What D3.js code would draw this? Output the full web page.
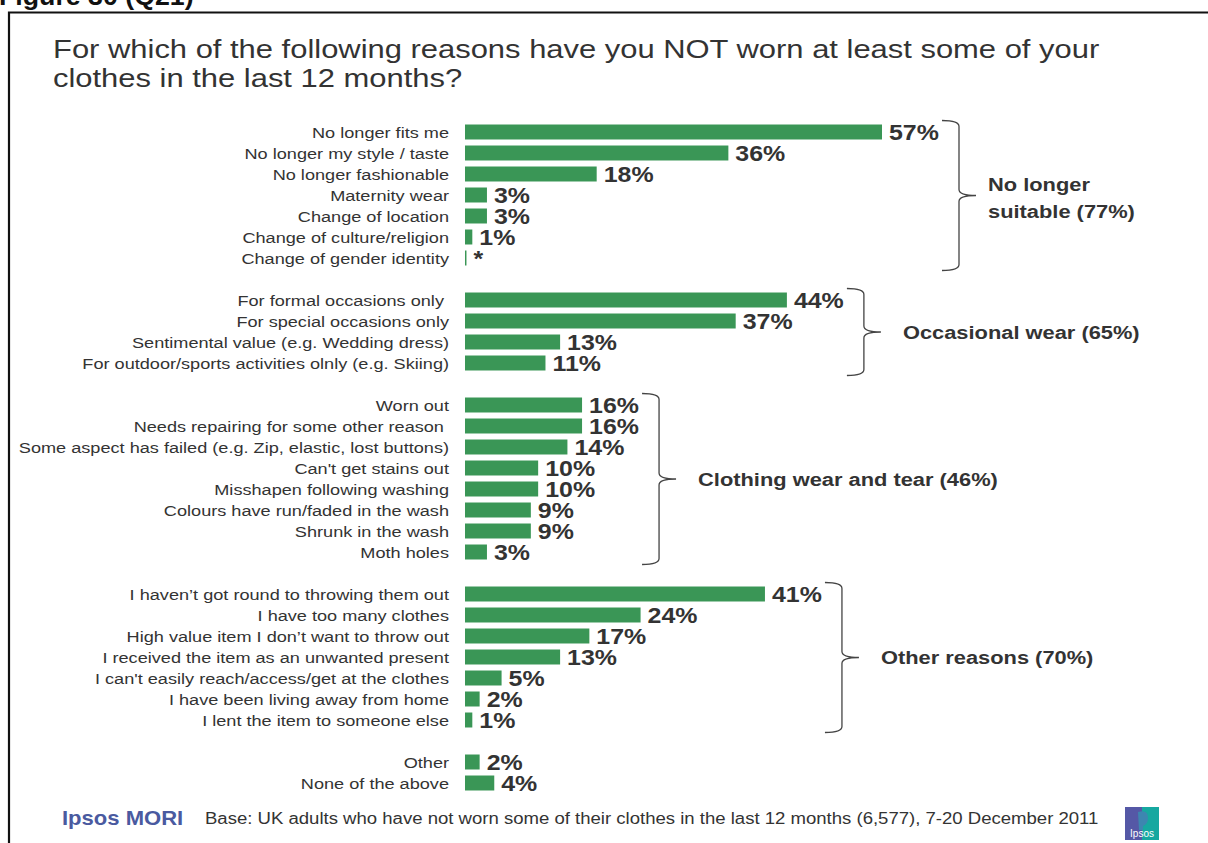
<!DOCTYPE html>
<html>
<head>
<meta charset="utf-8">
<script src="https://cdn.jsdelivr.net/npm/d3@7"></script>
<style>
  html, body { margin: 0; padding: 0; background: #fff; }
  svg { display: block; font-family: "Liberation Sans", Arial, sans-serif; }
</style>
</head>
<body>
<svg id="chart" width="1208" height="843"></svg>
<script>
// Reasons, grouped as in the questionnaire
const suitableLabels = ["No longer fits me", "No longer my style / taste", "No longer fashionable", "Maternity wear", "Change of location", "Change of culture/religion", "Change of gender identity"];
const suitableValues = [57, 36, 18, 3, 3, 1, 0.2];
const suitableText = ["57%", "36%", "18%", "3%", "3%", "1%", "*"];

const occasionalLabels = ["For formal occasions only ", "For special occasions only", "Sentimental value (e.g. Wedding dress)", "For outdoor/sports activities olnly (e.g. Skiing)"];
const occasionalValues = [44, 37, 13, 11];

const wearLabels = ["Worn out", "Needs repairing for some other reason ", "Some aspect has failed (e.g. Zip, elastic, lost buttons)", "Can't get stains out", "Misshapen following washing", "Colours have run/faded in the wash", "Shrunk in the wash", "Moth holes"];
const wearValues = [16, 16, 14, 10, 10, 9, 9, 3];

const otherLabels = ["I haven\u2019t got round to throwing them out", "I have too many clothes", "High value item I don\u2019t want to throw out", "I received the item as an unwanted present", "I can't easily reach/access/get at the clothes", "I have been living away from home", "I lent the item to someone else"];
const otherValues = [41, 24, 17, 13, 5, 2, 1];

const restLabels = ["Other", "None of the above"];
const restValues = [2, 4];

const groupNames = ["No longer\nsuitable (77%)", "Occasional wear (65%)", "Clothing wear and tear (46%)", "Other reasons (70%)", null];

const titleLines = ["For which of the following reasons have you NOT worn at least some of your", "clothes in the last 12 months?"];
const figureLabel = "Figure 30 (Q21)";
const baseNote = "Base: UK adults who have not worn some of their clothes in the last 12 months (6,577), 7-20 December 2011";

// Build row list (with a blank row between groups)
const groups = [
  { labels: suitableLabels, values: suitableValues, text: suitableText },
  { labels: occasionalLabels, values: occasionalValues },
  { labels: wearLabels, values: wearValues },
  { labels: otherLabels, values: otherValues },
  { labels: restLabels, values: restValues }
];
const rows = [];
const groupRanges = [];
let idx = 0;
groups.forEach((g, gi) => {
  const start = idx;
  g.labels.forEach((lab, i) => {
    rows.push({ key: idx, label: lab, value: g.values[i],
      text: g.text ? g.text[i] : g.values[i] + "%", group: gi });
    idx++;
  });
  groupRanges.push({ start, end: idx - 1, name: groupNames[gi],
    max: d3.max(g.values) });
  idx++; // spacer row
});
const nRows = idx - 1;

const svg = d3.select("#chart");
const green = "#3a9656";
const textCol = "#333333";

// Text in this layout is set slightly wide; draw it with a horizontal stretch
function wideText(parent, x, y, sx) {
  return parent.append("text")
    .attr("transform", `translate(${x},${y}) scale(${sx},1)`);
}

// Frame and figure caption
svg.append("path")
  .attr("d", "M9,843 V12.5 H1210")
  .attr("fill", "none").attr("stroke", "#111").attr("stroke-width", 2.2);
wideText(svg, -1, 5, 1.07)
  .attr("font-size", 25).attr("font-weight", "bold").attr("fill", "#111")
  .text(figureLabel);

// Title
titleLines.forEach((t, i) => {
  wideText(svg, 53, 58 + i * 29, 1.19)
    .attr("font-size", 26).attr("fill", textCol).text(t);
});

// Scales
const x = d3.scaleLinear().domain([0, 57]).range([465, 882]);
const y = d3.scaleBand().domain(d3.range(nRows)).range([121.5, 121.5 + nRows * 21])
  .paddingInner(0.286).paddingOuter(0.143);
const yc = i => y(i) + y.bandwidth() / 2;

const g = svg.append("g");

// Bars
g.selectAll("rect.bar").data(rows).join("rect")
  .attr("class", "bar")
  .attr("x", x(0))
  .attr("y", d => y(d.key))
  .attr("width", d => Math.max(1, x(d.value) - x(0)))
  .attr("height", y.bandwidth())
  .attr("fill", green);

// Category labels
g.selectAll("text.cat").data(rows).join("text")
  .attr("class", "cat")
  .attr("transform", d => `translate(449,${yc(d.key)}) scale(1.17,1)`)
  .attr("dy", "0.36em")
  .attr("text-anchor", "end")
  .attr("font-size", 15.5)
  .attr("fill", textCol)
  .style("white-space", "pre")
  .text(d => d.label);

// Value labels
g.selectAll("text.val").data(rows).join("text")
  .attr("class", "val")
  .attr("transform", d => `translate(${Math.max(x(d.value), x(0) + 1) + 7},${yc(d.key)}) scale(1.16,1)`)
  .attr("dy", "0.38em")
  .attr("font-size", 21.5)
  .attr("font-weight", "bold")
  .attr("fill", textCol)
  .text(d => d.text);

// Group braces with labels
const braces = groupRanges.filter(r => r.name);
braces.forEach(r => {
  const top = y(r.start) - 4;
  const bot = y(r.end) + y.bandwidth() + 5;
  const mid = (top + bot) / 2;
  const xv = x(r.max) + 77;
  const x0 = xv - 17;
  const xt = xv + 17;
  const rr = 6;
  const path = `M${x0},${top} Q${xv},${top} ${xv},${top + rr} L${xv},${mid - rr} Q${xv},${mid} ${xt},${mid} Q${xv},${mid} ${xv},${mid + rr} L${xv},${bot - rr} Q${xv},${bot} ${x0},${bot}`;
  g.append("path").attr("d", path)
    .attr("fill", "none").attr("stroke", "#444").attr("stroke-width", 1.3);
  const lines = r.name.split("\n");
  const lx = xt + (lines.length > 1 ? 12 : 22);
  const y0 = lines.length > 1 ? mid - 11 : mid;
  lines.forEach((ln, i) => {
    wideText(g, lx, y0 + i * 27, 1.15)
      .attr("dy", "0.36em")
      .attr("font-size", 19).attr("font-weight", "bold").attr("fill", textCol)
      .text(ln);
  });
});

// Footer
wideText(svg, 62, 825, 1.05)
  .attr("font-size", 21).attr("font-weight", "bold").attr("fill", "#4a5aa0")
  .text("Ipsos MORI");
wideText(svg, 205, 824, 1.16)
  .attr("font-size", 16).attr("fill", textCol)
  .text(baseNote);

// Ipsos logo
const logo = svg.append("g").attr("transform", "translate(1125,807)");
logo.append("rect").attr("width", 17).attr("height", 33).attr("fill", "#5558a6");
logo.append("rect").attr("x", 17).attr("width", 17).attr("height", 33).attr("fill", "#16a8a0");
logo.append("path").attr("d", "M13,5 Q23,2 23,11 Q23,17 18,19 L18,23 L14,23 Z").attr("fill", "#3d86b0");
logo.append("text").attr("x", 17).attr("y", 30).attr("text-anchor", "middle")
  .attr("font-size", 10).attr("fill", "#fff").text("Ipsos");
</script>
</body>
</html>
